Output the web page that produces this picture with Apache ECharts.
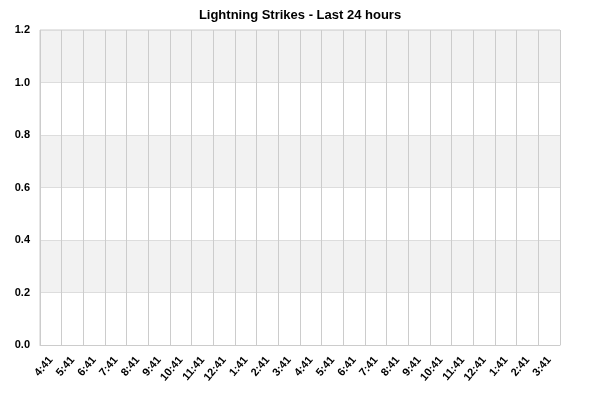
<!DOCTYPE html>
<html><head><meta charset="utf-8">
<script src="https://cdn.jsdelivr.net/npm/echarts@6/dist/echarts.min.js"></script>
<style>html,body{margin:0;padding:0;background:#fff}#c{width:600px;height:400px}</style>
</head><body><div id="c"></div>
<script>
const categories = ['4:41','5:41','6:41','7:41','8:41','9:41','10:41','11:41','12:41','1:41','2:41','3:41','4:41','5:41','6:41','7:41','8:41','9:41','10:41','11:41','12:41','1:41','2:41','3:41'];
const strikes = [0,0,0,0,0,0,0,0,0,0,0,0,0,0,0,0,0,0,0,0,0,0,0,0];
const yTicks = {min: 0, max: 1.2, interval: 0.2};
const titleText = 'Lightning Strikes - Last 24 hours';

const chart = echarts.init(document.getElementById('c'), null, {renderer: 'canvas'});
chart.setOption({
  animation: false,
  title: {text: titleText, left: 'center', top: 4,
    textStyle: {fontFamily: 'Liberation Sans, Arial', fontSize: 13, fontWeight: 'bold', color: '#000'}},
  grid: {left: 40, right: 40, top: 30, bottom: 55, show: true, borderColor: '#ccc', borderWidth: 1, backgroundColor: 'transparent'},
  xAxis: {
    type: 'category', data: categories, boundaryGap: true,
    axisLine: {show: true, lineStyle: {color: '#ccc'}},
    axisTick: {show: false},
    splitLine: {show: true, interval: 0, lineStyle: {color: '#ccc', width: 1}},
    axisLabel: {interval: 0, rotate: 50, margin: 13, color: '#000', fontFamily: 'Liberation Sans, Arial', fontSize: 11, fontWeight: 'bold'}
  },
  yAxis: {
    type: 'value', min: yTicks.min, max: yTicks.max, interval: yTicks.interval,
    axisLine: {show: false}, axisTick: {show: false},
    splitLine: {show: true, lineStyle: {color: '#ddd'}},
    splitArea: {show: true, areaStyle: {color: ['#ffffff', '#f2f2f2']}},
    axisLabel: {margin: 10, color: '#000', fontFamily: 'Liberation Sans, Arial', fontSize: 11, fontWeight: 'bold',
      formatter: v => v.toFixed(1)}
  },
  series: [{type: 'bar', name: 'Strikes', data: strikes, itemStyle: {color: '#4572a7'}}]
});
</script></body></html>
